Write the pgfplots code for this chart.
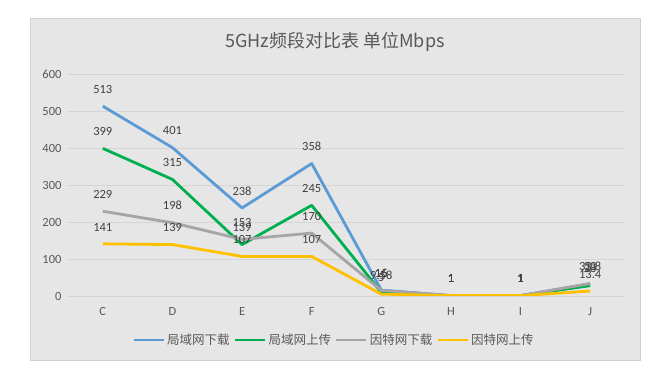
\documentclass[border=0pt]{standalone}
\usepackage{fontspec}
\setmainfont{Carlito}
\newfontfamily\cjk{Noto Sans CJK SC}
\usepackage{pgfplots}
\pgfplotsset{compat=1.18}
\definecolor{cbg}{HTML}{E7E6E6}
\definecolor{cborder}{HTML}{D0D0D0}
\definecolor{cgrid}{HTML}{D6D5D5}
\definecolor{c59}{HTML}{595959}
\definecolor{c40}{HTML}{404040}
\definecolor{sblue}{HTML}{5B9BD5}
\definecolor{sgreen}{HTML}{00B050}
\definecolor{sgray}{HTML}{A5A5A5}
\definecolor{syellow}{HTML}{FFC000}
\begin{document}
\begin{tikzpicture}
\fill[white] (0bp,0bp) rectangle (672bp,383bp);
\filldraw[fill=cbg, draw=cborder] (30bp,23bp) rectangle (640bp,365bp);
\node[font=\cjk\fontsize{18bp}{21bp}\selectfont, text=c59] at (335bp,341bp) {5GHz频段对比表 单位Mbps};
\begin{axis}[
  at={(68bp,87bp)}, anchor=south west, scale only axis,
  width=557bp, height=222bp,
  xmin=-0.5, xmax=7.5, ymin=0, ymax=600,
  xtick={0,...,7}, xticklabels={C,D,E,F,G,H,I,J},
  ytick={0,100,...,600},
  axis line style={draw=none},
  major tick length=0pt,
  ymajorgrids,
  grid style={cgrid, line width=0.75bp},
  tick label style={font=\fontsize{12.5bp}{14bp}\selectfont, text=c59},
  yticklabel style={xshift=-3bp},
  xticklabel style={yshift=-8bp},
  /pgf/number format/assume math mode=true,
  nodes near coords,
  every node near coord/.append style={font=\fontsize{12.5bp}{14bp}\selectfont, text=c40, yshift=8bp},
  legend columns=4,
  legend style={draw=none, fill=none, at={(0.4776,-0.198)}, anchor=center,
    font=\cjk\fontsize{12.5bp}{14bp}\selectfont, text=c59,
    /tikz/every even column/.append style={column sep=2bp}},
  legend image code/.code={\draw[#1, line width=2.8bp] (0bp,0bp) -- (30bp,0bp);},
  every axis plot/.append style={line width=2.8bp, mark=none, line join=round},
]
\addplot[sblue] coordinates {(0,513) (1,401) (2,238) (3,358) (4,16) (5,1) (6,1) (7,33)};
\addlegendentry{局域网下载}
\addplot[sgreen] coordinates {(0,399) (1,315) (2,139) (3,245) (4,9.58) (5,1) (6,1) (7,28)};
\addlegendentry{局域网上传}
\addplot[sgray] coordinates {(0,229) (1,198) (2,153) (3,170) (4,15) (5,1) (6,1) (7,33.8)};
\addlegendentry{因特网下载}
\addplot[syellow] coordinates {(0,141) (1,139) (2,107) (3,107) (4,5) (5,1) (6,1) (7,13.4)};
\addlegendentry{因特网上传}
\end{axis}
\end{tikzpicture}
\end{document}
